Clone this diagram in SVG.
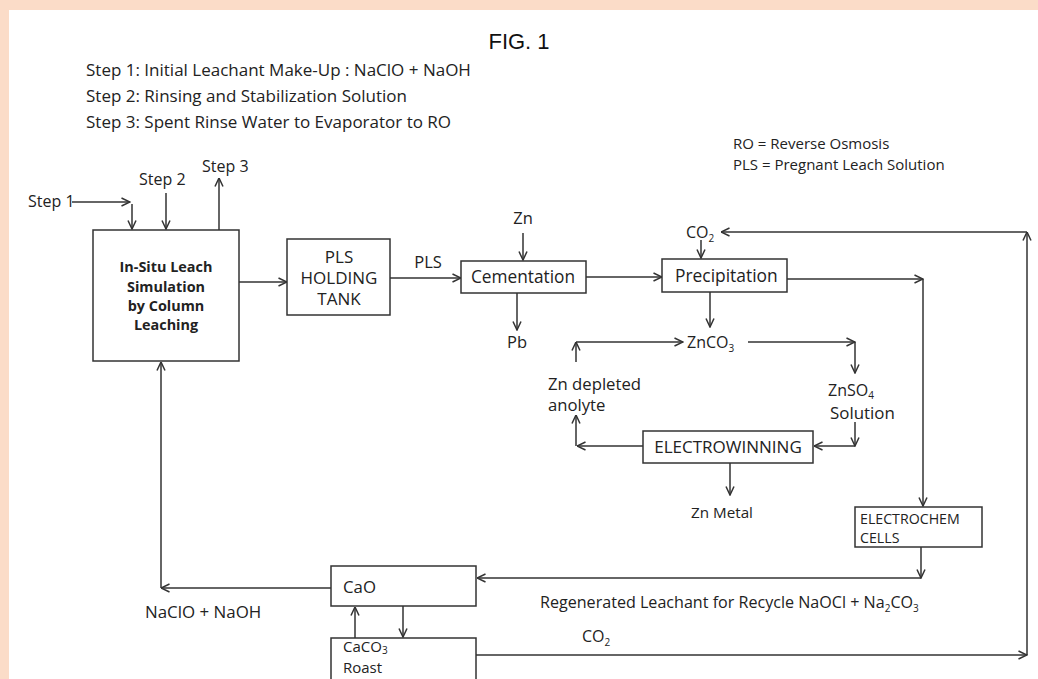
<svg xmlns="http://www.w3.org/2000/svg" width="1038" height="679" viewBox="0 0 1038 679">
<defs>
<style>
.t{font-family:"Open Sans",Lato,sans-serif;fill:#222;}
.b{font-weight:bold;}
.box{fill:#fff;stroke:#333;stroke-width:1.5;}
.ln{fill:none;stroke:#333;stroke-width:1.5;}
.m{text-anchor:middle;}
.sub{font-size:10px;}
</style>
<marker id="ar" viewBox="0 0 10 10" refX="9.5" refY="5" markerWidth="10" markerHeight="10" markerUnits="userSpaceOnUse" orient="auto">
<path d="M1,1 L9.5,5 L1,9" fill="none" stroke="#333" stroke-width="1.5"/>
</marker>
</defs>
<rect x="0" y="0" width="1038" height="679" fill="#fbdcc8"/>
<rect x="9" y="10" width="1029" height="669" fill="#fff"/>

<text x="519" y="49" font-family="Liberation Sans, Arial, sans-serif" font-size="22" text-anchor="middle" fill="#111">FIG. 1</text>

<g id="steps">
<text class="t" font-size="17" x="86" y="76">Step 1: Initial Leachant Make-Up : NaClO + NaOH</text>
<text class="t" font-size="17" x="86" y="102">Step 2: Rinsing and Stabilization Solution</text>
<text class="t" font-size="17" x="86" y="128">Step 3: Spent Rinse Water to Evaporator to RO</text>
</g>
<g id="legend">
<text class="t" font-size="15" x="733" y="149">RO = Reverse Osmosis</text>
<text class="t" font-size="15" x="733" y="170">PLS = Pregnant Leach Solution</text>
</g>

<g id="connectors">
<line class="ln" x1="72" y1="202" x2="130" y2="202" marker-end="url(#ar)"/>
<line class="ln" x1="132" y1="204" x2="132" y2="229" marker-end="url(#ar)"/>
<line class="ln" x1="166" y1="193" x2="166" y2="229" marker-end="url(#ar)"/>
<line class="ln" x1="219" y1="230" x2="219" y2="178" marker-end="url(#ar)"/>
<line class="ln" x1="239" y1="282" x2="287" y2="282" marker-end="url(#ar)"/>
<line class="ln" x1="390" y1="278" x2="461" y2="278" marker-end="url(#ar)"/>
<line class="ln" x1="523" y1="233" x2="523" y2="260" marker-end="url(#ar)"/>
<line class="ln" x1="517" y1="293" x2="517" y2="330" marker-end="url(#ar)"/>
<line class="ln" x1="586" y1="277" x2="662" y2="277" marker-end="url(#ar)"/>
<line class="ln" x1="701" y1="240" x2="701" y2="258" marker-end="url(#ar)"/>
<line class="ln" x1="1027" y1="232" x2="721" y2="232" marker-end="url(#ar)"/>
<line class="ln" x1="1027" y1="655" x2="1027" y2="232" marker-end="url(#ar)"/>
<line class="ln" x1="778" y1="279" x2="923" y2="279" marker-end="url(#ar)"/>
<line class="ln" x1="923" y1="279" x2="923" y2="506" marker-end="url(#ar)"/>
<line class="ln" x1="710" y1="292" x2="710" y2="327" marker-end="url(#ar)"/>
<line class="ln" x1="576" y1="362" x2="576" y2="342" marker-end="url(#ar)"/>
<line class="ln" x1="576" y1="342" x2="683" y2="342" marker-end="url(#ar)"/>
<line class="ln" x1="748" y1="342" x2="855" y2="342" marker-end="url(#ar)"/>
<line class="ln" x1="855" y1="342" x2="855" y2="373" marker-end="url(#ar)"/>
<line class="ln" x1="855" y1="422" x2="855" y2="446" marker-end="url(#ar)"/>
<line class="ln" x1="855" y1="446" x2="814" y2="446" marker-end="url(#ar)"/>
<line class="ln" x1="643" y1="446" x2="577" y2="446" marker-end="url(#ar)"/>
<line class="ln" x1="576" y1="446" x2="576" y2="415" marker-end="url(#ar)"/>
<line class="ln" x1="730" y1="463" x2="730" y2="495" marker-end="url(#ar)"/>
<line class="ln" x1="921" y1="547" x2="921" y2="578" marker-end="url(#ar)"/>
<line class="ln" x1="921" y1="578" x2="477" y2="578" marker-end="url(#ar)"/>
<line class="ln" x1="331" y1="588" x2="161" y2="588" marker-end="url(#ar)"/>
<line class="ln" x1="161" y1="588" x2="161" y2="362" marker-end="url(#ar)"/>
<line class="ln" x1="355" y1="638" x2="355" y2="607" marker-end="url(#ar)"/>
<line class="ln" x1="403" y1="606" x2="403" y2="637" marker-end="url(#ar)"/>
<line class="ln" x1="476" y1="655" x2="1027" y2="655" marker-end="url(#ar)"/>
</g>

<g id="labels">
<text class="t" font-size="16" x="28" y="207">Step 1</text>
<text class="t" font-size="16" x="139" y="185">Step 2</text>
<text class="t" font-size="16" x="202" y="172">Step 3</text>
<text class="t m" font-size="16.5" x="428" y="268">PLS</text>
<text class="t m" font-size="16.5" x="523" y="224">Zn</text>
<text class="t m" font-size="16.5" x="517" y="348">Pb</text>
<text class="t" font-size="16" x="686" y="238">CO<tspan class="sub" dy="4">2</tspan></text>
<text class="t" font-size="16" x="687" y="348">ZnCO<tspan class="sub" dy="4">3</tspan></text>
<text class="t" font-size="16.7" x="548" y="390">Zn depleted</text>
<text class="t" font-size="16.7" x="548" y="411">anolyte</text>
<text class="t" font-size="16" x="828" y="396">ZnSO<tspan class="sub" dy="3">4</tspan></text>
<text class="t" font-size="16.9" x="830" y="419">Solution</text>
<text class="t m" font-size="15.2" x="722" y="518">Zn Metal</text>
<text class="t" font-size="16.9" x="145" y="618">NaClO + NaOH</text>
<text class="t" font-size="16.1" x="540" y="608">Regenerated Leachant for Recycle NaOCl + Na<tspan class="sub" dy="4">2</tspan><tspan dy="-4">CO</tspan><tspan class="sub" dy="4">3</tspan></text>
<text class="t" font-size="16" x="582" y="642">CO<tspan class="sub" dy="4">2</tspan></text>
</g>

<g id="insitu">
<rect class="box" x="93" y="230" width="146" height="131"/>
<text class="t b m" font-size="14.4" x="166" y="272">In-Situ Leach</text>
<text class="t b m" font-size="14.4" x="166" y="292">Simulation</text>
<text class="t b m" font-size="14.4" x="166" y="311">by Column</text>
<text class="t b m" font-size="14.4" x="166" y="330">Leaching</text>
</g>
<g id="pls-tank">
<rect class="box" x="287" y="239" width="103" height="76"/>
<text class="t m" font-size="17" x="339" y="263">PLS</text>
<text class="t m" font-size="17" x="339" y="284">HOLDING</text>
<text class="t m" font-size="17" x="339" y="305">TANK</text>
</g>
<g id="cementation">
<rect class="box" x="461" y="261" width="125" height="32"/>
<text class="t m" font-size="17.3" x="523" y="283">Cementation</text>
</g>
<g id="precipitation">
<rect class="box" x="662" y="259" width="125" height="33"/>
<text class="t" font-size="17.4" x="675" y="282">Precipitation</text>
</g>
<g id="electrowinning">
<rect class="box" x="643" y="431" width="170" height="32"/>
<text class="t m" font-size="17" x="728" y="453">ELECTROWINNING</text>
</g>
<g id="electrochem">
<rect class="box" x="855" y="507" width="127" height="40"/>
<text class="t" font-size="14.2" x="860" y="524">ELECTROCHEM</text>
<text class="t" font-size="14.2" x="860" y="543">CELLS</text>
</g>
<g id="cao">
<rect class="box" x="331" y="566" width="145" height="40"/>
<text class="t" font-size="16.8" x="343" y="593">CaO</text>
</g>
<g id="caco3-roast">
<rect class="box" x="331" y="638" width="145" height="42"/>
<text class="t" font-size="15" x="343" y="652">CaCO<tspan class="sub" dy="2">3</tspan></text>
<text class="t" font-size="15" x="343" y="673">Roast</text>
</g>
</svg>
